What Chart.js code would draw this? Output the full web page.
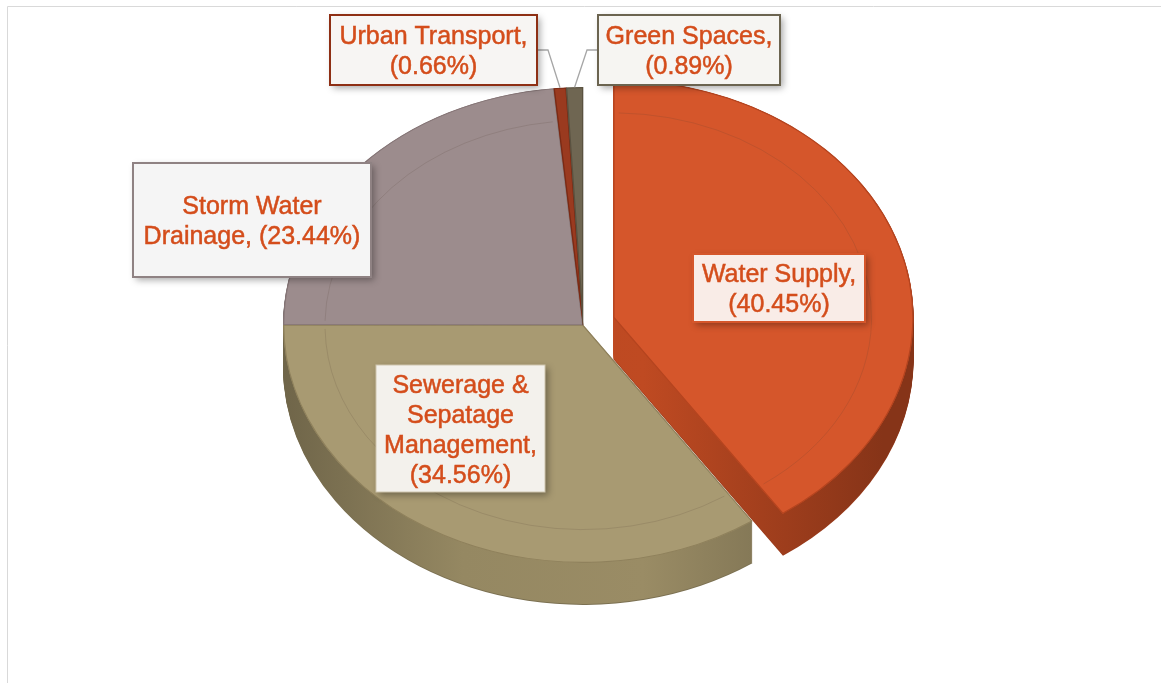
<!DOCTYPE html>
<html>
<head>
<meta charset="utf-8">
<script src="https://cdn.jsdelivr.net/npm/chart.js@4"></script>
<style>
  html, body { margin: 0; padding: 0; background: #ffffff; }
  #wrap { width: 1161px; height: 683px; }
</style>
</head>
<body>
<div id="wrap"><canvas id="c" width="1161" height="683"></canvas></div>
<script>
// ---- data ----
const categories = ['Water Supply', 'Sewerage & Sepatage Management', 'Storm Water Drainage', 'Urban Transport', 'Green Spaces'];
const shares = [40.45, 34.56, 23.44, 0.66, 0.89];

// ---- styles ----
const topColors    = ['#D5562B', '#A89A72', '#9C8C8D', '#9A3A1F', '#6F6652'];
const edgeColors   = ['#B4441F', '#8F815C', '#857576', '#7A2A14', '#5A5240'];
const sideColors   = ['#BF4A22', '#9A8C65', '#8A7B7C', '#6E2814', '#575040'];
const boxBorders   = ['#D5562B', '#CFC6AE', '#8F8283', '#8E2F14', '#6B6450'];
const boxFills     = ['#F9ECE7', '#F3F1EC', '#F5F5F5', '#F7F5F3', '#F6F5F2'];
const boxBorderW   = [2, 1, 2, 2, 2];
// label boxes: [left, top, width, height]
const boxRects = [
  [693, 254, 172, 68],
  [376, 365, 169, 127],
  [133, 163, 238, 114],
  [330, 15, 207, 70],
  [598, 15, 182, 70]
];
const leaderSlices = [3, 4];
const textColor = '#D44D1B';
const explodeDist = [32, 0, 0, 0, 0];

function shade(hex, f) {
  const n = parseInt(hex.slice(1), 16);
  const r = Math.round(((n >> 16) & 255) * f), g = Math.round(((n >> 8) & 255) * f), b = Math.round((n & 255) * f);
  return `rgb(${Math.min(255,r)},${Math.min(255,g)},${Math.min(255,b)})`;
}

const pie3d = {
  id: 'pie3d',
  beforeDraw(chart) {
    const ctx = chart.ctx;
    ctx.save();
    ctx.strokeStyle = '#D9D9D9';
    ctx.lineWidth = 1;
    ctx.beginPath();
    ctx.moveTo(7.5, 690); ctx.lineTo(7.5, 6.5); ctx.lineTo(1170, 6.5);
    ctx.stroke();
    ctx.restore();
  },
  afterUpdate(chart, args, opts) {
    const meta = chart.getDatasetMeta(0);
    meta.data.forEach((arc, i) => {
      const d = opts.explode[i] || 0;
      if (!d) return;
      const mid = (arc.startAngle + arc.endAngle) / 2;
      arc.x += Math.cos(mid) * d;
      arc.y += Math.sin(mid) * d * opts.squash;
    });
  },
  beforeDatasetsDraw(chart, args, opts) {
    const ctx = chart.ctx;
    const meta = chart.getDatasetMeta(0);
    const ref = meta.data[1];
    const cx = ref.x, R = ref.outerRadius;
    // side walls, drawn from the bottom up
    for (let d = opts.depth; d >= 1; d--) {
      meta.data.forEach((arc, i) => {
        ctx.save();
        ctx.translate(0, d);
        ctx.translate(arc.x, arc.y); ctx.scale(1, opts.squash); ctx.translate(-arc.x, -arc.y);
        const g = ctx.createLinearGradient(cx - R, 0, cx + R, 0);
        const base = sideColors[i];
        g.addColorStop(0, shade(base, 0.72));
        g.addColorStop(0.3, shade(base, 0.97));
        g.addColorStop(0.6, shade(base, 1.0));
        g.addColorStop(1, shade(base, 0.7));
        ctx.fillStyle = (d === opts.depth) ? shade(base, 0.8) : g;
        ctx.beginPath();
        ctx.moveTo(arc.x, arc.y);
        ctx.arc(arc.x, arc.y, arc.outerRadius, arc.startAngle, arc.endAngle);
        ctx.closePath();
        ctx.fill();
        ctx.restore();
      });
    }
    // top faces: squash the drawing of each element around its own centre
    meta.data.forEach((arc) => {
      if (arc._wrapped) return;
      const orig = arc.draw;
      arc.draw = function (c, area) {
        c.save();
        c.translate(this.x, this.y); c.scale(1, opts.squash); c.translate(-this.x, -this.y);
        orig.call(this, c, area);
        c.restore();
      };
      arc._wrapped = true;
    });
  },
  afterDatasetsDraw(chart, args, opts) {
    const ctx = chart.ctx;
    const meta = chart.getDatasetMeta(0);
    // faint bevel ring on the top faces
    ctx.save();
    meta.data.forEach((arc) => {
      if (arc.endAngle - arc.startAngle < 0.2) return;
      ctx.save();
      ctx.translate(arc.x, arc.y); ctx.scale(1, opts.squash); ctx.translate(-arc.x, -arc.y);
      ctx.beginPath();
      ctx.arc(arc.x, arc.y, arc.outerRadius * 0.86, arc.startAngle + 0.02, arc.endAngle - 0.02);
      ctx.strokeStyle = 'rgba(80,60,50,0.18)';
      ctx.lineWidth = 1;
      ctx.stroke();
      ctx.restore();
    });
    ctx.restore();
    // leader lines
    ctx.save();
    ctx.strokeStyle = '#A6A6A6';
    ctx.lineWidth = 1.3;
    leaderSlices.forEach((i) => {
      const arc = meta.data[i];
      const mid = (arc.startAngle + arc.endAngle) / 2;
      const px = arc.x + Math.cos(mid) * arc.outerRadius;
      const py = arc.y + Math.sin(mid) * arc.outerRadius * opts.squash;
      const [l, t, w, h] = boxRects[i];
      const by = t + h / 2;
      const bx = (l + w / 2 < px) ? l + w : l;
      const ex = (l + w / 2 < px) ? bx + 11 : bx - 11;
      ctx.beginPath();
      ctx.moveTo(bx, by); ctx.lineTo(ex, by); ctx.lineTo(px, py);
      ctx.stroke();
    });
    ctx.restore();
    // label boxes
    const fontSize = 25, lineH = 30;
    ctx.save();
    ctx.font = `${fontSize}px "Liberation Sans", Arial, sans-serif`;
    categories.forEach((name, i) => {
      const [l, t, w, h] = boxRects[i];
      ctx.save();
      ctx.shadowColor = 'rgba(0,0,0,0.35)';
      ctx.shadowBlur = 7;
      ctx.shadowOffsetX = 3;
      ctx.shadowOffsetY = 3;
      ctx.fillStyle = boxFills[i];
      ctx.fillRect(l, t, w, h);
      ctx.restore();
      ctx.strokeStyle = boxBorders[i];
      ctx.lineWidth = boxBorderW[i];
      ctx.strokeRect(l, t, w, h);
      // wrap text
      const full = `${name}, (${shares[i].toFixed(2)}%)`;
      const words = full.split(' ');
      const lines = [];
      let cur = '';
      words.forEach((wd) => {
        const test = cur ? cur + ' ' + wd : wd;
        if (ctx.measureText(test).width > w - 8 && cur) { lines.push(cur); cur = wd; }
        else cur = test;
      });
      if (cur) lines.push(cur);
      ctx.fillStyle = textColor;
      ctx.strokeStyle = textColor;
      ctx.lineWidth = 0.5;
      ctx.textAlign = 'center';
      ctx.textBaseline = 'alphabetic';
      const cyb = t + h / 2;
      const first = cyb - (lines.length - 1) * lineH / 2;
      lines.forEach((ln, k) => {
        ctx.fillText(ln, l + w / 2, first + k * lineH + 9);
        ctx.strokeText(ln, l + w / 2, first + k * lineH + 9);
      });
    });
    ctx.restore();
  }
};

new Chart(document.getElementById('c'), {
  type: 'pie',
  data: {
    labels: categories,
    datasets: [{
      data: shares,
      backgroundColor: topColors,
      borderColor: edgeColors,
      borderWidth: 1,
      borderAlign: 'inner'
    }]
  },
  options: {
    responsive: false,
    animation: false,
    radius: 300,
    rotation: 0,
    layout: { padding: { left: 5, right: 0, top: 0, bottom: 33 } },
    plugins: {
      legend: { display: false },
      tooltip: { enabled: false },
      pie3d: { squash: 0.793, depth: 42, explode: explodeDist }
    }
  },
  plugins: [pie3d]
});
</script>
</body>
</html>
